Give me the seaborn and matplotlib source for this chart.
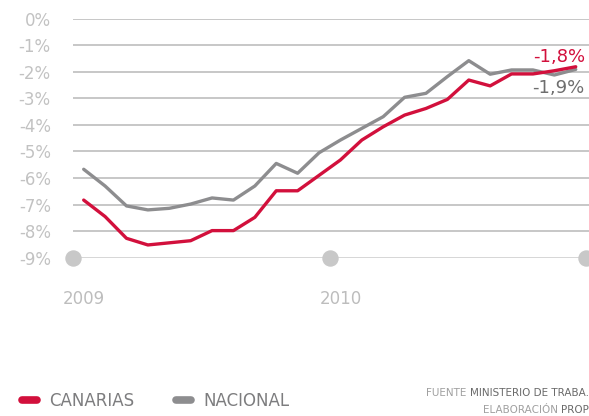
import matplotlib.pyplot as plt
import numpy as np
import pandas as pd
import seaborn as sns
from matplotlib.lines import Line2D

# monthly data, Jan 2009 - Dec 2010
meses = 2009 + (np.arange(24) + 0.5) / 12
canarias = [-6.83, -7.45, -8.27, -8.52, -8.44, -8.36, -7.98, -7.98, -7.48, -6.48, -6.48, -5.90,
            -5.32, -4.57, -4.07, -3.63, -3.38, -3.04, -2.31, -2.53, -2.08, -2.08, -1.96, -1.81]
nacional = [-5.67, -6.30, -7.05, -7.20, -7.14, -6.98, -6.75, -6.83, -6.30, -5.45, -5.82, -5.05,
            -4.57, -4.13, -3.69, -2.96, -2.81, -2.18, -1.58, -2.09, -1.93, -1.93, -2.12, -1.91]
series = ['CANARIAS', 'NACIONAL']
colores = {'CANARIAS': '#d2103c', 'NACIONAL': '#8d8d8f'}
y_ticks = [0, -1, -2, -3, -4, -5, -6, -7, -8, -9]
y_labels = ['0%', '-1%', '-2%', '-3%', '-4%', '-5%', '-6%', '-7%', '-8%', '-9%']
anios = [2009, 2010, 2011]
anio_labels = ['2009', '2010']

df = pd.DataFrame({
    'mes': np.tile(meses, 2),
    'tasa': canarias + nacional,
    'serie': ['CANARIAS'] * 24 + ['NACIONAL'] * 24,
})

sns.set_style('white')
plt.rcParams['font.family'] = ['DejaVu Sans']

fig = plt.figure(figsize=(5.89, 4.16), dpi=100)
ax = fig.add_axes([73 / 589, (416 - 257.7) / 416, 516 / 589, 239 / 416])

# grid lines
for t in y_ticks:
    ax.axhline(t, color='#cbcbcb' if t == -9 else '#b8b8b8', lw=1.1, zorder=0)

sns.lineplot(data=df, x='mes', y='tasa', hue='serie', hue_order=['NACIONAL', 'CANARIAS'],
             palette=colores, linewidth=2.4, legend=False, ax=ax)

# year dots on the baseline
ax.scatter(anios, [-9] * 3, s=140, color='#c8c8c8', clip_on=False, zorder=3, linewidths=0)

ax.set_xlim(2009, 2011.01)
ax.set_ylim(-9, 0)
ax.set_yticks(y_ticks)
ax.set_yticklabels(y_labels)
ax.set_xticks([a + 0.5 / 12 for a in anios[:2]])
ax.set_xticklabels(anio_labels)
ax.tick_params(axis='y', length=0, pad=16, labelsize=12, labelcolor='#c2c2c2')
ax.tick_params(axis='x', length=0, pad=23, labelsize=12, labelcolor='#bdbdbd')
ax.set_xlabel('')
ax.set_ylabel('')
sns.despine(ax=ax, left=True, bottom=True)

# end labels
ax.annotate('-1,8%', xy=(meses[-1], canarias[-1]), xytext=(6.5, 7.3), textcoords='offset points',
            ha='right', va='center', fontsize=13, color='#d2103c')
ax.annotate('-1,9%', xy=(meses[-1], nacional[-1]), xytext=(6, -13.4), textcoords='offset points',
            ha='right', va='center', fontsize=13, color='#6e6e6e')

# legend
handles = [Line2D([], [], color=colores[s], lw=5.5, solid_capstyle='round') for s in series]
leg = fig.legend(handles, series, loc='center left', bbox_to_anchor=(22 / 589, 15 / 416),
                 frameon=False, ncol=2, handlelength=0.9, handletextpad=0.75, columnspacing=2.5,
                 borderpad=0, borderaxespad=0, prop={'size': 12})
for t in leg.get_texts():
    t.set_color('#7d7d7f')

# source note
t1 = fig.text(589 / 589, 23 / 416, 'MINISTERIO DE TRABA.', ha='right', va='center',
              fontsize=7.5, color='#6a6a6a')
ax.annotate('FUENTE ', xy=(0, 0.5), xycoords=t1, ha='right', va='center',
            fontsize=7.5, color='#a0a0a0')
t2 = fig.text(589 / 589, 6 / 416, 'PROP', ha='right', va='center', fontsize=7.5, color='#6a6a6a')
ax.annotate('ELABORACIÓN ', xy=(0, 0.5), xycoords=t2, ha='right', va='center',
            fontsize=7.5, color='#a0a0a0')

plt.savefig('out.png', dpi=100)
